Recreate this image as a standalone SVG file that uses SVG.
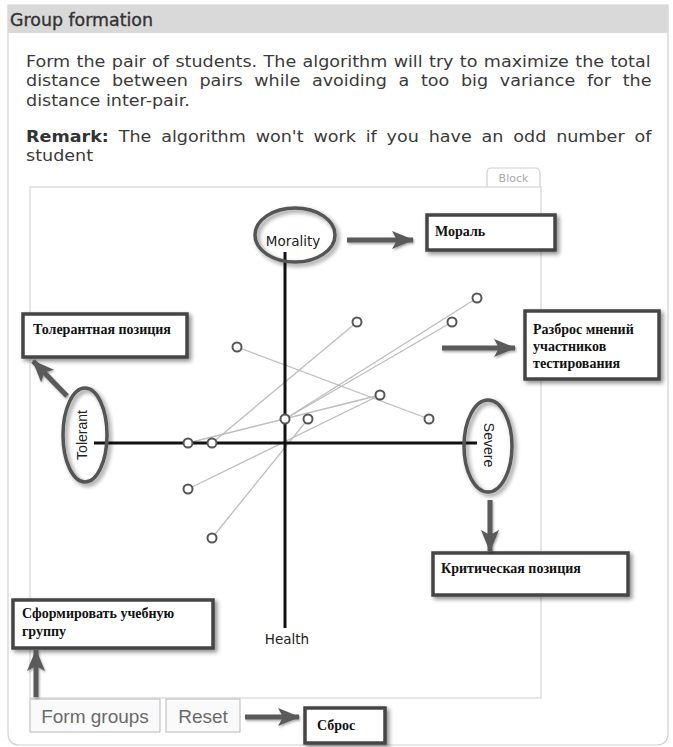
<svg xmlns="http://www.w3.org/2000/svg" width="673" height="747" viewBox="0 0 673 747">
<defs>
<style>
.para{font-family:"DejaVu Sans",sans-serif;font-size:16px;fill:#3a3a3a}
.axlab{font-family:"DejaVu Sans",sans-serif;font-size:13.5px;fill:#222}
.ellab{font-family:"Liberation Sans",Arial,sans-serif;font-size:14px;fill:#222}
.ru{font-family:"Liberation Serif","Times New Roman",serif;font-size:14px;font-weight:bold;fill:#111}
.box{fill:#fff;stroke:#454545;stroke-width:3.5;filter:url(#sh)}
.ell{fill:none;stroke:#555;stroke-width:3.5;filter:url(#sh)}
.arr{stroke:#5a5a5a;stroke-width:5;fill:none;marker-end:url(#head);filter:url(#sh2)}
.pair{stroke:#bdbdbd;stroke-width:1.3;fill:none}
.pt{fill:#fff;stroke:#555;stroke-width:2}
.btn{fill:#fafafa;stroke:#c4c4c4;stroke-width:1.2}
.btntxt{font-family:"Liberation Sans",Arial,sans-serif;font-size:19px;fill:#6a6a6a}
</style>
<filter id="sh" x="-20%" y="-20%" width="150%" height="160%">
<feDropShadow dx="2.5" dy="2.5" stdDeviation="2" flood-color="#000" flood-opacity="0.45"/>
</filter>
<filter id="sh2" filterUnits="userSpaceOnUse" x="0" y="0" width="673" height="747">
<feDropShadow dx="1" dy="1.5" stdDeviation="1.2" flood-color="#000" flood-opacity="0.35"/>
</filter>
<marker id="head" markerUnits="userSpaceOnUse" markerWidth="24" markerHeight="18" refX="21" refY="9" orient="auto">
<path d="M0,0 L22,9 L0,18 L5,9 z" fill="#5a5a5a"/>
</marker>
</defs>

<!-- panel -->
<path d="M8,5 H668 V733 Q668,745 656,745 H20 Q8,745 8,733 Z" fill="#fff" stroke="#d0d0d0" stroke-width="1.2"/>
<rect x="8" y="5" width="660" height="28" fill="#d9d9d9"/>
<text x="10" y="26" font-family="DejaVu Sans,sans-serif" font-size="17.4" fill="#333" stroke="#333" stroke-width="0.35">Group formation</text>

<g transform="translate(26,0) scale(1.097,1)">
<text class="para" x="0" y="67" word-spacing="0.75">Form the pair of students. The algorithm will try to maximize the total</text>
<text class="para" x="0" y="86.5" word-spacing="5.55">distance between pairs while avoiding a too big variance for the</text>
<text class="para" x="0" y="106">distance inter-pair.</text>
<text class="para" x="0" y="142" word-spacing="3.9"><tspan font-weight="bold" fill="#333">Remark:</tspan> The algorithm won't work if you have an odd number of</text>
<text class="para" x="0" y="161">student</text>
</g>

<!-- block tab -->
<path d="M487,187 V173 Q487,168 492,168 H535 Q540,168 540,173 V187" fill="#fff" stroke="#cfcfcf" stroke-width="1.2"/>
<text x="513.5" y="182" text-anchor="middle" font-family="DejaVu Sans,sans-serif" font-size="11" fill="#aaa">Block</text>

<!-- chart box -->
<rect x="30" y="187" width="511" height="511" fill="#fff" stroke="#d6d6d6" stroke-width="1.2"/>

<!-- pairs -->
<g id="pairs">
<line class="pair" x1="237" y1="347" x2="429" y2="419"/>
<line class="pair" x1="212" y1="443" x2="357" y2="322"/>
<line class="pair" x1="188" y1="443" x2="380" y2="395"/>
<line class="pair" x1="188" y1="489" x2="380" y2="395"/>
<line class="pair" x1="212" y1="538" x2="308" y2="419"/>
<line class="pair" x1="285" y1="419" x2="452" y2="322"/>
<line class="pair" x1="285" y1="419" x2="477" y2="298"/>
</g>

<!-- axes -->
<g id="axes" stroke="#111" stroke-width="3">
<line x1="285" y1="252" x2="285" y2="628"/>
<line x1="94" y1="443" x2="477" y2="443"/>
</g>

<g id="points">
<circle class="pt" cx="477" cy="298" r="4.5"/>
<circle class="pt" cx="357" cy="322" r="4.5"/>
<circle class="pt" cx="452" cy="322" r="4.5"/>
<circle class="pt" cx="237" cy="347" r="4.5"/>
<circle class="pt" cx="380" cy="395" r="4.5"/>
<circle class="pt" cx="285" cy="419" r="4.5"/>
<circle class="pt" cx="308" cy="419" r="4.5"/>
<circle class="pt" cx="429" cy="419" r="4.5"/>
<circle class="pt" cx="188" cy="443" r="4.5"/>
<circle class="pt" cx="212" cy="443" r="4.5"/>
<circle class="pt" cx="188" cy="489" r="4.5"/>
<circle class="pt" cx="212" cy="538" r="4.5"/>
</g>

<!-- axis nodes -->
<g id="morality">
<ellipse class="ell" cx="295" cy="235" rx="40" ry="27"/>
<text class="axlab" x="293" y="246" text-anchor="middle">Morality</text>
</g>
<g id="health">
<text class="axlab" x="287" y="644" text-anchor="middle">Health</text>
</g>
<g id="tolerant">
<ellipse class="ell" cx="85" cy="435" rx="22" ry="47"/>
<text class="ellab" x="0" y="0" text-anchor="middle" transform="translate(87,435) rotate(-90)">Tolerant</text>
</g>
<g id="severe">
<ellipse class="ell" cx="488" cy="446" rx="24" ry="46"/>
<text class="ellab" x="0" y="0" text-anchor="middle" transform="translate(484,445) rotate(90)">Severe</text>
</g>

<!-- callout boxes -->
<g id="box-moral">
<rect class="box" x="427" y="215" width="128" height="35"/>
<text class="ru" x="435" y="236">Мораль</text>
</g>
<g id="box-tolerant">
<rect class="box" x="23" y="314" width="164" height="43"/>
<text class="ru" x="33" y="334">Толерантная позиция</text>
</g>
<g id="box-spread">
<rect class="box" x="525" y="311" width="134" height="68"/>
<text class="ru" x="533" y="334">Разброс мнений</text>
<text class="ru" x="533" y="351">участников</text>
<text class="ru" x="533" y="368">тестирования</text>
</g>
<g id="box-critical">
<rect class="box" x="433" y="553" width="195" height="42"/>
<text class="ru" x="441" y="573">Критическая позиция</text>
</g>
<g id="box-form">
<rect class="box" x="13" y="600" width="200" height="48"/>
<text class="ru" x="22" y="618">Сформировать учебную</text>
<text class="ru" x="22" y="636">группу</text>
</g>
<g id="box-reset">
<rect class="box" x="305" y="708" width="80" height="35"/>
<text class="ru" x="317" y="730">Сброс</text>
</g>

<!-- buttons -->
<g id="btn-form">
<rect class="btn" x="30" y="699" width="130" height="33"/>
<text class="btntxt" x="95" y="723" text-anchor="middle">Form groups</text>
</g>
<g id="btn-reset">
<rect class="btn" x="166" y="699" width="74" height="33"/>
<text class="btntxt" x="203" y="723" text-anchor="middle">Reset</text>
</g>

<!-- connectors -->
<g id="connectors">
<line class="arr" x1="347" y1="240" x2="413" y2="240"/>
<line class="arr" x1="442" y1="348" x2="515" y2="348"/>
<line class="arr" x1="67" y1="396" x2="33" y2="361"/>
<line class="arr" x1="490" y1="500" x2="490" y2="551"/>
<line class="arr" x1="36" y1="697" x2="36" y2="650"/>
<line class="arr" x1="245" y1="717" x2="299" y2="717"/>
</g>
</svg>
